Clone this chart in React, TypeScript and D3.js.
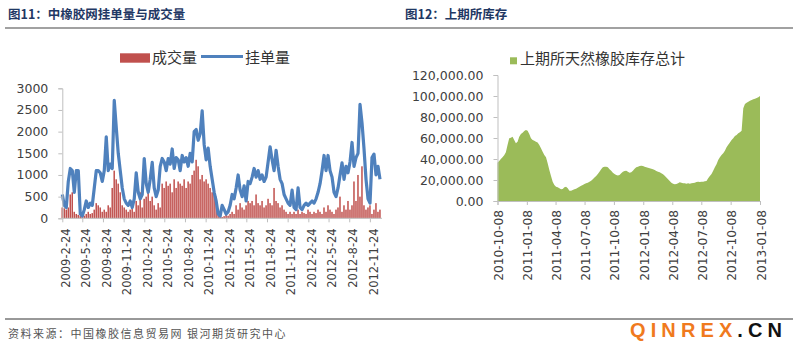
import { useEffect, useRef } from "react";
import * as d3 from "d3";

// ---- left chart: 中橡胶网挂单量与成交量 ----
const orderBook = [
  550, 300, 250, 850, 1150, 1100, 600, 1100, 1100, 100,
  50, 200, 400, 250, 350, 300, 700, 1100, 1100, 1050,
  850, 1100, 1880, 1100, 1250, 1150, 2720, 2100, 1500, 1100,
  700, 450, 350, 300, 400, 250, 450, 1050, 600, 450,
  550, 1380, 800, 600, 900, 1290, 700, 500, 650, 1200,
  1380, 1300, 1100, 1380, 1250, 1600, 1150, 1400, 1350, 1100,
  1450, 1300, 1400, 1200, 1500, 1300, 2000, 2050, 1800, 1950,
  2480, 1700, 1350, 1620, 1200, 900, 600, 400, 100, 50,
  300, 200, 100, 150, 300, 550, 450, 700, 1000, 650,
  500, 750, 400, 850, 800, 950, 1150, 950, 1100, 900,
  1000, 850, 950, 1300, 1650, 1350, 1100, 1570, 1200, 900,
  800, 550, 450, 350, 300, 650, 250, 200, 700, 250,
  200, 300, 350, 300, 350, 400, 350, 450, 600, 800,
  1100, 1450, 1100, 1450, 1100, 950, 600, 500, 700, 1000,
  1280, 900, 1200, 1050, 1300, 1750, 1200, 1400, 1500, 2630,
  2200, 1600, 900, 450, 350, 1400, 1480, 1000, 1200, 900,
];

const traded = [
  250, 230, 200, 250,
  550, 600, 150, 100, 80,
  50, 30, 60, 100, 150, 100, 120, 200,
  350, 300, 250, 150, 200, 150, 300, 250,
  700, 1100, 900, 800, 600,
  300, 250, 200, 150, 200, 250, 150,
  400, 300, 600, 250, 450, 500,
  800, 400, 500, 300, 200, 350, 250,
  800, 700, 850, 750, 800, 600, 900, 700, 850, 800, 750, 900, 700, 850, 800, 1000,
  1100, 1350, 1200, 900, 1000, 850, 900, 800, 700, 600,
  700, 500, 100, 50, 30, 50, 80, 60, 100,
  150, 100, 300, 200, 350, 250, 200, 300, 400, 350,
  400, 300, 550, 350, 300, 400, 250, 300, 450, 350,
  300, 700, 400, 350, 250, 300, 200, 150, 100, 150,
  100, 150, 100, 200, 100, 150, 120, 100, 200, 150, 100, 150, 120, 200, 150,
  100, 250, 150, 300, 200, 150, 100, 200, 250, 500, 150, 300, 200, 400, 200,
  300, 850, 400, 1000, 500, 1200, 300, 200, 250, 300, 100, 200, 350, 150, 200,
];

const leftTicks = [
  "2009-2-24", "2009-5-24", "2009-8-24", "2009-11-24",
  "2010-2-24", "2010-5-24", "2010-8-24", "2010-11-24",
  "2011-2-24", "2011-5-24", "2011-8-24", "2011-11-24",
  "2012-2-24", "2012-5-24", "2012-8-24", "2012-11-24",
];
const leftYTicks = [0, 500, 1000, 1500, 2000, 2500, 3000];

// ---- right chart: 上期所天然橡胶库存总计 ----
const stock = [
  36500, 38200, 40000, 41600, 43500, 46500, 53300, 59700, 60300, 61200,
  58100, 55000, 56500, 61200, 63800, 65000, 66700, 67600, 67000, 63800,
  59700, 58100, 57500, 56500, 55600, 53300, 50200, 47000, 43800, 41600,
  35900, 29500, 23800, 18400, 15200, 13600, 13000, 12100, 11100, 11400,
  13000, 13600, 12100, 9800, 9800, 10500, 11100, 11700, 12700, 13600,
  14600, 15200, 16200, 16800, 17500, 18400, 19300, 20600, 22500, 23800,
  25700, 27900, 30200, 32100, 32700, 32700, 32100, 30200, 28900, 27000,
  25700, 24800, 24400, 24800, 26400, 27900, 28600, 28900, 27900, 27000,
  27300, 28900, 30800, 32100, 32700, 33300, 33600, 33300, 32700, 32100,
  31700, 31100, 30800, 30200, 29500, 28600, 27900, 27300, 26400, 25400,
  24100, 22500, 20600, 19000, 17500, 16500, 15900, 16200, 16800, 17800,
  17500, 16800, 16800, 16500, 16800, 16500, 16800, 17100, 17500, 18100,
  18400, 18100, 18400, 18400, 18700, 19000, 21600, 23800, 25700, 28900,
  32100, 35000, 39000, 41600, 43800, 45400, 47900, 51100, 53600, 55600,
  58100, 59700, 61900, 62900, 64500, 65400, 67000, 88300, 92400, 93600,
  94600, 95500, 96200, 96800, 97400, 98100, 98800, 100000,
];

const rightTicks = [
  "2010-10-08", "2011-01-08", "2011-04-08", "2011-07-08", "2011-10-08",
  "2012-01-08", "2012-04-08", "2012-07-08", "2012-10-08", "2013-01-08",
];
const rightYTicks = [0, 20000, 40000, 60000, 80000, 100000, 120000];

const RED = "#C0504D";
const BLUE = "#4F81BD";
const GREEN = "#9BBB59";
const NAVY = "#1f3864";
const AXIS = "#bfbfbf";
const LABEL = "#404040";
const NUM_FONT = "'DejaVu Sans', sans-serif";
const CJK_FONT = "'Noto Sans CJK SC', sans-serif";

function parseDay(s: string) {
  const [y, m, d] = s.split("-").map(Number);
  return new Date(y, m - 1, d);
}

function spread(start: Date, end: Date, n: number) {
  const step = (+end - +start) / (n - 1);
  return d3.range(n).map(i => new Date(+start + i * step));
}

export default function App() {
  const ref = useRef<SVGSVGElement | null>(null);

  useEffect(() => {
    if (!ref.current) return;
    const svg = d3.select(ref.current);
    svg.selectAll("*").remove();

    svg.append("rect").attr("width", 800).attr("height", 351).attr("fill", "#fff");

    // titles + header rule
    svg.append("text").attr("x", 8).attr("y", 19)
      .attr("font-family", CJK_FONT).attr("font-weight", "bold")
      .attr("font-size", 12.5).attr("fill", NAVY)
      .text("图11：中橡胶网挂单量与成交量");
    svg.append("text").attr("x", 405).attr("y", 19)
      .attr("font-family", CJK_FONT).attr("font-weight", "bold")
      .attr("font-size", 12.5).attr("fill", NAVY)
      .text("图12：上期所库存");
    svg.append("line").attr("x1", 5).attr("x2", 793).attr("y1", 28).attr("y2", 28)
      .attr("stroke", "#444").attr("stroke-width", 1.2);

    // -----------------------------
    // Left chart
    // -----------------------------
    const lStart = parseDay("2009-02-24");
    const lEnd = new Date(2013, 0, 8);
    const lx = d3.scaleTime().domain([lStart, lEnd]).range([62.3, 380]);
    const ly = d3.scaleLinear().domain([0, 3000]).range([218.3, 88.3]);
    const lDates = spread(lStart, lEnd, orderBook.length);
    const gL = svg.append("g");

    gL.append("g").selectAll("rect")
      .data(traded)
      .join("rect")
      .attr("x", (_, i) => lx(lDates[i]) - 0.8)
      .attr("width", 1.5)
      .attr("y", d => ly(d))
      .attr("height", d => ly(0) - ly(d))
      .attr("fill", RED);

    const line = d3.line<number>()
      .x((_, i) => lx(lDates[i]))
      .y(d => ly(d));
    gL.append("path")
      .datum(orderBook)
      .attr("d", line)
      .attr("fill", "none")
      .attr("stroke", BLUE)
      .attr("stroke-width", 3.2)
      .attr("stroke-linejoin", "round");

    const lyAxis = gL.append("g")
      .attr("transform", `translate(${lx.range()[0]},0)`)
      .call(d3.axisLeft(ly).tickValues(leftYTicks).tickSize(4).tickPadding(10).tickFormat(d3.format("d")));
    const lxAxis = gL.append("g")
      .attr("transform", `translate(0,${ly(0)})`)
      .call(d3.axisBottom(lx).tickValues(leftTicks.map(parseDay)).tickSize(4).tickFormat(() => ""));
    lxAxis.select(".domain").attr("d", `M${lx.range()[0]},0H382`);

    gL.append("g").selectAll("text")
      .data(leftTicks)
      .join("text")
      .attr("transform", d => `translate(${lx(parseDay(d)) + 7.8},${ly(0) + 10}) rotate(-90)`)
      .attr("text-anchor", "end")
      .attr("font-family", NUM_FONT).attr("font-size", 11.5).attr("fill", LABEL)
      .text(d => d);

    // legend
    gL.append("rect").attr("x", 120).attr("y", 53.3).attr("width", 30).attr("height", 9.4).attr("fill", RED);
    gL.append("text").attr("x", 152).attr("y", 63).attr("font-family", CJK_FONT)
      .attr("font-size", 15).attr("fill", "#333").text("成交量");
    gL.append("line").attr("x1", 201).attr("x2", 243).attr("y1", 56.5).attr("y2", 56.5)
      .attr("stroke", BLUE).attr("stroke-width", 3);
    gL.append("text").attr("x", 245).attr("y", 63).attr("font-family", CJK_FONT)
      .attr("font-size", 15).attr("fill", "#333").text("挂单量");

    // -----------------------------
    // Right chart
    // -----------------------------
    const rStart = parseDay("2010-10-08");
    const rEnd = parseDay("2013-01-08");
    const rx = d3.scaleTime().domain([rStart, rEnd]).range([497.5, 760]);
    const ry = d3.scaleLinear().domain([0, 120000]).range([201, 75]);
    const rDates = spread(rStart, rEnd, stock.length);
    const gR = svg.append("g");

    const area = d3.area<number>()
      .x((_, i) => rx(rDates[i]))
      .y0(ry(0))
      .y1(d => ry(d));
    gR.append("path").datum(stock).attr("d", area).attr("fill", GREEN);

    const ryAxis = gR.append("g")
      .attr("transform", `translate(${rx.range()[0]},0)`)
      .call(d3.axisLeft(ry).tickValues(rightYTicks).tickSize(4).tickPadding(10).tickFormat(d3.format(",.2f")));
    const rxAxis = gR.append("g")
      .attr("transform", `translate(0,${ry(0)})`)
      .call(d3.axisBottom(rx).tickValues(rightTicks.map(parseDay)).tickSize(4).tickFormat(() => ""));

    gR.append("g").selectAll("text")
      .data(rightTicks)
      .join("text")
      .attr("transform", d => `translate(${rx(parseDay(d)) + 5.5},${ry(0) + 9}) rotate(-90)`)
      .attr("text-anchor", "end")
      .attr("font-family", NUM_FONT).attr("font-size", 12.2).attr("fill", LABEL)
      .text(d => d);

    gR.append("rect").attr("x", 510).attr("y", 57.3).attr("width", 7).attr("height", 7).attr("fill", GREEN);
    gR.append("text").attr("x", 520).attr("y", 64).attr("font-family", CJK_FONT)
      .attr("font-size", 15).attr("fill", "#333").text("上期所天然橡胶库存总计");

    // axis styling
    [lyAxis, lxAxis, ryAxis, rxAxis].forEach(a => {
      a.selectAll(".domain").attr("stroke", AXIS);
      a.selectAll(".tick line").attr("stroke", AXIS);
    });
    [lyAxis, ryAxis].forEach(a => {
      a.selectAll(".tick text")
        .attr("font-family", NUM_FONT).attr("font-size", 12.5).attr("fill", LABEL);
    });

    // footer
    svg.append("line").attr("x1", 5).attr("x2", 793).attr("y1", 319).attr("y2", 319)
      .attr("stroke", "#333").attr("stroke-width", 1);
    svg.append("text").attr("x", 8).attr("y", 338)
      .attr("font-family", CJK_FONT).attr("font-size", 11).attr("fill", "#555")
      .attr("letter-spacing", 1.5)
      .text("资料来源：中国橡胶信息贸易网  银河期货研究中心");
    const mark = svg.append("text").attr("x", 630).attr("y", 337)
      .attr("font-family", "'Liberation Sans', Arial, sans-serif").attr("font-weight", "bold")
      .attr("font-size", 20).attr("textLength", 152).attr("lengthAdjust", "spacing");
    mark.append("tspan").attr("fill", "#f07a1e").text("QINREX");
    mark.append("tspan").attr("fill", "#111").text(".CN");
  }, []);

  return (
    <svg
      ref={ref}
      width={800}
      height={351}
      style={{ position: "absolute", left: 0, top: 0, display: "block" }}
    />
  );
}
